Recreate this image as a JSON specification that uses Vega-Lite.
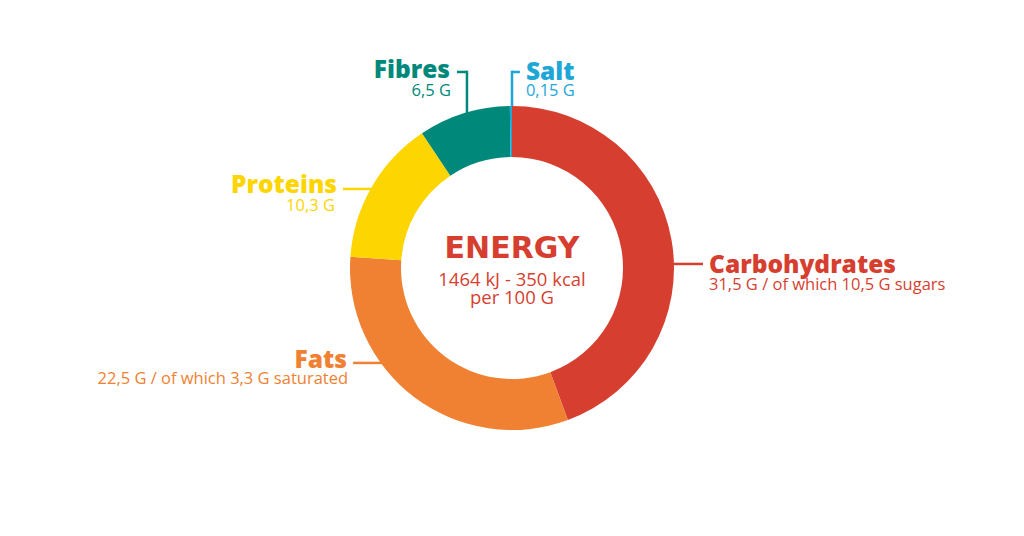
{
  "$schema": "https://vega.github.io/schema/vega-lite/v6.json",
  "width": 1024,
  "height": 536,
  "autosize": {"type": "fit", "contains": "padding"},
  "padding": 0,
  "background": "white",
  "view": {"stroke": null},
  "config": {"font": "Open Sans"},
  "datasets": {
    "nutrients": [
      {"name": "Carbohydrates", "grams": 31.5, "order": 1},
      {"name": "Fats", "grams": 22.5, "order": 2},
      {"name": "Proteins", "grams": 10.3, "order": 3},
      {"name": "Fibres", "grams": 6.5, "order": 4},
      {"name": "Salt", "grams": 0.15, "order": 5}
    ],
    "leaders": [
      {"name": "Carbohydrates", "x": 99.4, "x2": 117.9, "y": 2.5, "y2": 2.5},
      {"name": "Fats", "x": -98.1, "x2": -80, "y": -58.6, "y2": -58.6},
      {"name": "Proteins", "x": -104.3, "x2": -86, "y": 48.8, "y2": 48.8},
      {"name": "Fibres", "x": -34.0, "x2": -27.8, "y": 121.0, "y2": 121.0},
      {"name": "Fibres", "x": -27.8, "x2": -27.8, "y": 121.8, "y2": 95},
      {"name": "Salt", "x": 0, "x2": 0, "y": 121.8, "y2": 99},
      {"name": "Salt", "x": 0, "x2": 4.9, "y": 121.0, "y2": 121.0}
    ],
    "titles": [
      {"name": "Carbohydrates", "label": "Carbohydrates", "x": 121.6, "y": -3.1, "side": "right"},
      {"name": "Fats", "label": "Fats", "x": -101.9, "y": -61.7, "side": "left"},
      {"name": "Proteins", "label": "Proteins", "x": -108.0, "y": 46.3, "side": "left"},
      {"name": "Fibres", "label": "Fibres", "x": -38.3, "y": 117.3, "side": "left"},
      {"name": "Salt", "label": "Salt", "x": 8.6, "y": 116.0, "side": "right"}
    ],
    "subtitles": [
      {"name": "Carbohydrates", "label": "31,5 G / of which 10,5 G sugars", "x": 121.6, "y": -13.4, "side": "right"},
      {"name": "Fats", "label": "22,5 G / of which 3,3 G saturated", "x": -101.2, "y": -71.4, "side": "left"},
      {"name": "Proteins", "label": "10,3 G", "x": -109.3, "y": 35.4, "side": "left"},
      {"name": "Fibres", "label": "6,5 G", "x": -37.7, "y": 106.4, "side": "left"},
      {"name": "Salt", "label": "0,15 G", "x": 8.6, "y": 106.4, "side": "right"}
    ],
    "centre": [
      {"label": "ENERGY", "x": 0, "y": 6.2, "kind": "head"},
      {"label": "1464 kJ - 350 kcal", "x": 0, "y": -11.1, "kind": "body"},
      {"label": "per 100 G", "x": 0, "y": -22.0, "kind": "body"}
    ]
  },
  "resolve": {"scale": {"theta": "independent"}},
  "layer": [
    {
      "data": {"name": "leaders"},
      "mark": {"type": "rule", "strokeWidth": 2.5},
      "encoding": {
        "x": {"field": "x", "type": "quantitative", "scale": {"domain": [-316.05, 316.05], "nice": false, "zero": false}, "axis": null},
        "x2": {"field": "x2"},
        "y": {"field": "y", "type": "quantitative", "scale": {"domain": [-165.43, 165.43], "nice": false, "zero": false}, "axis": null},
        "y2": {"field": "y2"},
        "color": {"field": "name", "type": "nominal", "legend": null,
          "scale": {"domain": ["Carbohydrates", "Fats", "Proteins", "Fibres", "Salt"],
                    "range": ["#d63f30", "#f08132", "#fdd500", "#00897b", "#1ea6d6"]}}
      }
    },
    {
      "data": {"name": "nutrients"},
      "mark": {"type": "arc", "outerRadius": 162, "innerRadius": 111},
      "encoding": {
        "theta": {"field": "grams", "type": "quantitative", "stack": true},
        "order": {"field": "order", "type": "quantitative"},
        "color": {"field": "name", "type": "nominal", "legend": null}
      }
    },
    {
      "data": {"name": "titles"},
      "transform": [{"filter": "datum.side === 'right'"}],
      "mark": {"type": "text", "align": "left", "baseline": "alphabetic", "fontSize": 24.5, "fontWeight": 800},
      "encoding": {
        "x": {"field": "x", "type": "quantitative"},
        "y": {"field": "y", "type": "quantitative"},
        "text": {"field": "label"},
        "color": {"field": "name", "type": "nominal", "legend": null}
      }
    },
    {
      "data": {"name": "titles"},
      "transform": [{"filter": "datum.side === 'left'"}],
      "mark": {"type": "text", "align": "right", "baseline": "alphabetic", "fontSize": 24.5, "fontWeight": 800},
      "encoding": {
        "x": {"field": "x", "type": "quantitative"},
        "y": {"field": "y", "type": "quantitative"},
        "text": {"field": "label"},
        "color": {"field": "name", "type": "nominal", "legend": null}
      }
    },
    {
      "data": {"name": "subtitles"},
      "transform": [{"filter": "datum.side === 'right'"}],
      "mark": {"type": "text", "align": "left", "baseline": "alphabetic", "fontSize": 16.5},
      "encoding": {
        "x": {"field": "x", "type": "quantitative"},
        "y": {"field": "y", "type": "quantitative"},
        "text": {"field": "label"},
        "color": {"field": "name", "type": "nominal", "legend": null}
      }
    },
    {
      "data": {"name": "subtitles"},
      "transform": [{"filter": "datum.side === 'left'"}],
      "mark": {"type": "text", "align": "right", "baseline": "alphabetic", "fontSize": 16.5},
      "encoding": {
        "x": {"field": "x", "type": "quantitative"},
        "y": {"field": "y", "type": "quantitative"},
        "text": {"field": "label"},
        "color": {"field": "name", "type": "nominal", "legend": null}
      }
    },
    {
      "data": {"name": "centre"},
      "transform": [{"filter": "datum.kind === 'head'"}],
      "mark": {"type": "text", "align": "center", "baseline": "alphabetic", "font": "DejaVu Sans", "fontSize": 30, "fontWeight": "bold", "color": "#d63f30"},
      "encoding": {
        "x": {"field": "x", "type": "quantitative"},
        "y": {"field": "y", "type": "quantitative"},
        "text": {"field": "label"}
      }
    },
    {
      "data": {"name": "centre"},
      "transform": [{"filter": "datum.kind === 'body'"}],
      "mark": {"type": "text", "align": "center", "baseline": "alphabetic", "fontSize": 18.5, "color": "#d63f30"},
      "encoding": {
        "x": {"field": "x", "type": "quantitative"},
        "y": {"field": "y", "type": "quantitative"},
        "text": {"field": "label"}
      }
    }
  ]
}
